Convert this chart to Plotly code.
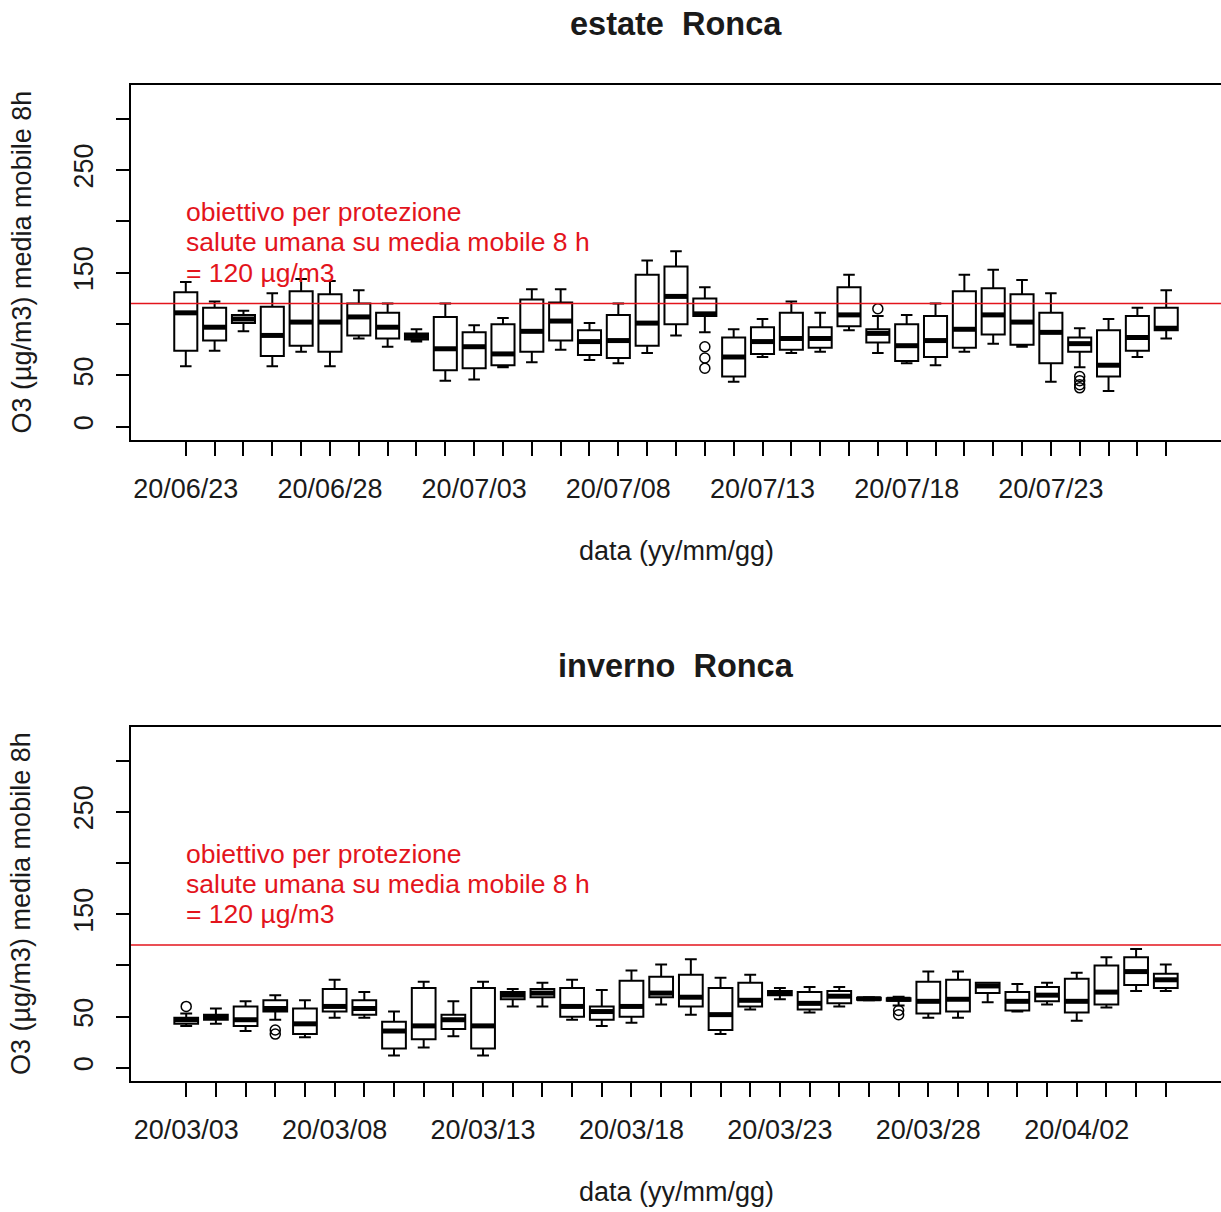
import plotly.graph_objects as go

# ---------------- data ----------------
summer_dates = ["20/06/23", "20/06/24", "20/06/25", "20/06/26", "20/06/27", "20/06/28", "20/06/29",
                "20/06/30", "20/07/01", "20/07/02", "20/07/03", "20/07/04", "20/07/05", "20/07/06",
                "20/07/07", "20/07/08", "20/07/09", "20/07/10", "20/07/11", "20/07/12", "20/07/13",
                "20/07/14", "20/07/15", "20/07/16", "20/07/17", "20/07/18", "20/07/19", "20/07/20",
                "20/07/21", "20/07/22", "20/07/23", "20/07/24", "20/07/25", "20/07/26", "20/07/27"]
summer_low = [59, 74, 93, 59, 73, 59, 86, 78, 83, 45, 46, 58, 63, 75, 65, 62, 72, 89, 92, 44,
              68, 72, 73, 94, 72, 62, 60, 73, 81, 78, 44, 58, 35, 68, 86]
summer_q1 = [74, 84, 101, 69, 79, 73, 89, 86, 85, 55, 57, 60, 73, 84, 70, 67, 79, 100, 108, 49,
             71, 75, 77, 98, 82, 64, 68, 77, 90, 80, 62, 73, 49, 74, 94]
summer_med = [111, 97, 105, 89, 102, 102, 107, 97, 88, 76, 78, 71, 93, 103, 83, 84, 101, 127, 110, 68,
              83, 86, 86, 109, 91, 79, 84, 95, 109, 102, 92, 81, 60, 87, 96]
summer_q3 = [131, 116, 109, 117, 132, 129, 120, 111, 91, 107, 92, 100, 124, 121, 94, 109, 148, 156, 125, 87,
             97, 111, 97, 136, 95, 100, 108, 132, 135, 129, 111, 87, 94, 108, 116]
summer_high = [141, 122, 113, 130, 144, 142, 133, 120, 95, 120, 99, 106, 134, 134, 101, 120, 162, 171, 136, 95,
               105, 122, 111, 148, 108, 109, 120, 148, 153, 143, 130, 96, 105, 116, 133]
summer_out_idx = [19, 19, 19, 25, 32, 32, 32, 32]
summer_out_val = [78, 67, 57, 115, 49, 45, 41, 38]

winter_dates = ["20/03/03", "20/03/04", "20/03/05", "20/03/06", "20/03/07", "20/03/08", "20/03/09",
                "20/03/10", "20/03/11", "20/03/12", "20/03/13", "20/03/14", "20/03/15", "20/03/16",
                "20/03/17", "20/03/18", "20/03/19", "20/03/20", "20/03/21", "20/03/22", "20/03/23",
                "20/03/24", "20/03/25", "20/03/26", "20/03/27", "20/03/28", "20/03/29", "20/03/30",
                "20/03/31", "20/04/01", "20/04/02", "20/04/03", "20/04/04", "20/04/05"]
winter_low = [41, 43, 36, 47, 30, 49, 49, 12, 20, 31, 12, 60, 60, 47, 41, 44, 62, 52, 33, 57,
              67, 54, 60, 66, 61, 49, 49, 64, 55, 62, 46, 59, 75, 75]
winter_q1 = [43, 47, 41, 55, 33, 55, 52, 19, 28, 38, 19, 67, 69, 50, 47, 50, 69, 60, 37, 60,
             71, 57, 63, 66.5, 65.5, 53, 55, 73, 56, 65, 54, 62, 81, 78]
winter_med = [47, 50, 47, 58, 43, 60, 58, 36, 41, 47, 41, 71, 73, 60, 55, 60, 73, 69, 52, 66,
              73, 63, 70, 67.5, 67, 65, 67, 80, 65, 71, 65, 74, 94, 86]
winter_q3 = [49, 52, 60, 66, 58, 77, 66, 45, 78, 52, 78, 74, 77, 78, 60, 85, 89, 91, 78, 83,
             75, 74, 75, 68.5, 68, 84, 86, 83, 74, 79, 87, 100, 108, 92]
winter_high = [53, 58, 65, 71, 66, 86, 74, 55, 84, 65, 84, 77, 83, 86, 76, 95, 101, 106, 88, 91,
               78, 79, 79, 69, 69.5, 94, 94, 83, 82, 83, 93, 108, 116, 101]
winter_out_idx = [1, 4, 4, 25, 25]
winter_out_val = [60, 37, 33, 56, 52]

y_tick_vals = [0, 50, 100, 150, 200, 250, 300]
y_tick_text = ["0", "50", "", "150", "", "250", ""]
threshold = 120
note_lines = ["obiettivo per protezione", "salute umana su media mobile 8 h", "= 120 µg/m3"]
note_y = [209, 180, 150]
titles = ["estate  Ronca", "inverno  Ronca"]
xlab = "data (yy/mm/gg)"
ylab = "O3 (µg/m3) media mobile 8h"
y_lim = [0, 320]

# ---------------- layout geometry ----------------
W, H = 1221, 1212
L, R, T, B = 131, 0, 85, 131
PW, PH = W - L - R, H - T - B
FONT = "Liberation Sans, Arial, sans-serif"
RED = "#e3141c"
TXT = "#1a1a1a"


def py2paper(py):
    return (H - B - py) / PH


def px2paper(px):
    return (px - L) / PW


fig = go.Figure()

panels = [
    (summer_dates, summer_low, summer_q1, summer_med, summer_q3, summer_high, summer_out_idx, summer_out_val,
     "x", "y", (85, 440)),
    (winter_dates, winter_low, winter_q1, winter_med, winter_q3, winter_high, winter_out_idx, winter_out_val,
     "x2", "y2", (727, 1081)),
]

for k, (dates, lo, q1, med, q3, hi, oi, ov, xa, ya, (ptop, pbot)) in enumerate(panels):
    n = len(dates)
    pos = list(range(1, n + 1))
    fig.add_trace(go.Box(
        x=pos, q1=q1, median=med, q3=q3, lowerfence=lo, upperfence=hi,
        width=0.8, whiskerwidth=0.5, fillcolor="white",
        line=dict(color="black", width=2), boxpoints=False,
        xaxis=xa, yaxis=ya, showlegend=False, hoverinfo="skip"))
    # thick median bars
    mx, my = [], []
    for p, m in zip(pos, med):
        mx += [p - 0.4, p + 0.4, None]
        my += [m, m, None]
    fig.add_trace(go.Scatter(x=mx, y=my, mode="lines", line=dict(color="black", width=5),
                             xaxis=xa, yaxis=ya, showlegend=False, hoverinfo="skip"))
    # outliers
    fig.add_trace(go.Scatter(x=oi, y=ov, mode="markers",
                             marker=dict(symbol="circle-open", size=10, color="black",
                                         line=dict(width=1.5, color="black")),
                             xaxis=xa, yaxis=ya, showlegend=False, hoverinfo="skip"))

    ext = 0.04 * n
    dom_y = [py2paper(pbot), py2paper(ptop)]
    axsuffix = "" if k == 0 else "2"
    fig.update_layout(**{
        "xaxis" + axsuffix: dict(
            domain=[0, 1], range=[0.5 - ext, n + 0.5 + ext], anchor=ya,
            tickvals=pos, ticktext=[d if i % 5 == 0 else "" for i, d in enumerate(dates)],
            ticks="outside", ticklen=14, tickwidth=1.5, tickcolor="black",
            showline=True, mirror=True, linecolor="black", linewidth=1.5,
            showgrid=False, zeroline=False, ticklabelstandoff=10,
            tickfont=dict(family=FONT, size=27, color=TXT), tickangle=0),
        "yaxis" + axsuffix: dict(
            domain=dom_y, range=[y_lim[0] - 0.04 * (y_lim[1] - y_lim[0]), y_lim[1] + 0.04 * (y_lim[1] - y_lim[0])],
            anchor=xa, tickvals=y_tick_vals, ticktext=y_tick_text, tickangle=-90,
            ticks="outside", ticklen=13, tickwidth=1.5, tickcolor="black",
            showline=True, mirror=False, linecolor="black", linewidth=1.5,
            showgrid=False, zeroline=False, ticklabelstandoff=12,
            tickfont=dict(family=FONT, size=27, color=TXT)),
    })

    # threshold line
    fig.add_shape(type="line", xref=xa + " domain", yref=ya, x0=0, x1=1, y0=threshold, y1=threshold,
                  line=dict(color=RED, width=1.5))
    # note text
    for line_txt, yv in zip(note_lines, note_y):
        fig.add_annotation(x=1, y=yv, xref=xa, yref=ya, text=line_txt, showarrow=False,
                           xanchor="left", yanchor="middle", xshift=-2,
                           font=dict(family=FONT, size=26.5, color=RED))
    # title
    fig.add_annotation(x=px2paper(676), y=py2paper(ptop - 61), xref="paper", yref="paper",
                       text="<b>" + titles[k] + "</b>", showarrow=False,
                       xanchor="center", yanchor="middle",
                       font=dict(family=FONT, size=32.5, color=TXT))
    # x label
    fig.add_annotation(x=px2paper(676), y=py2paper(pbot + 111), xref="paper", yref="paper",
                       text=xlab, showarrow=False, xanchor="center", yanchor="middle",
                       font=dict(family=FONT, size=27, color=TXT))
    # y label
    fig.add_annotation(x=px2paper(21), y=py2paper((ptop + pbot) / 2), xref="paper", yref="paper",
                       text=ylab, showarrow=False, xanchor="center", yanchor="middle", textangle=-90,
                       font=dict(family=FONT, size=27, color=TXT))

fig.update_layout(
    width=W, height=H, margin=dict(l=L, r=R, t=T, b=B, pad=0),
    paper_bgcolor="white", plot_bgcolor="white", showlegend=False,
    font=dict(family=FONT, color=TXT),
)

fig.write_html("out.html")
